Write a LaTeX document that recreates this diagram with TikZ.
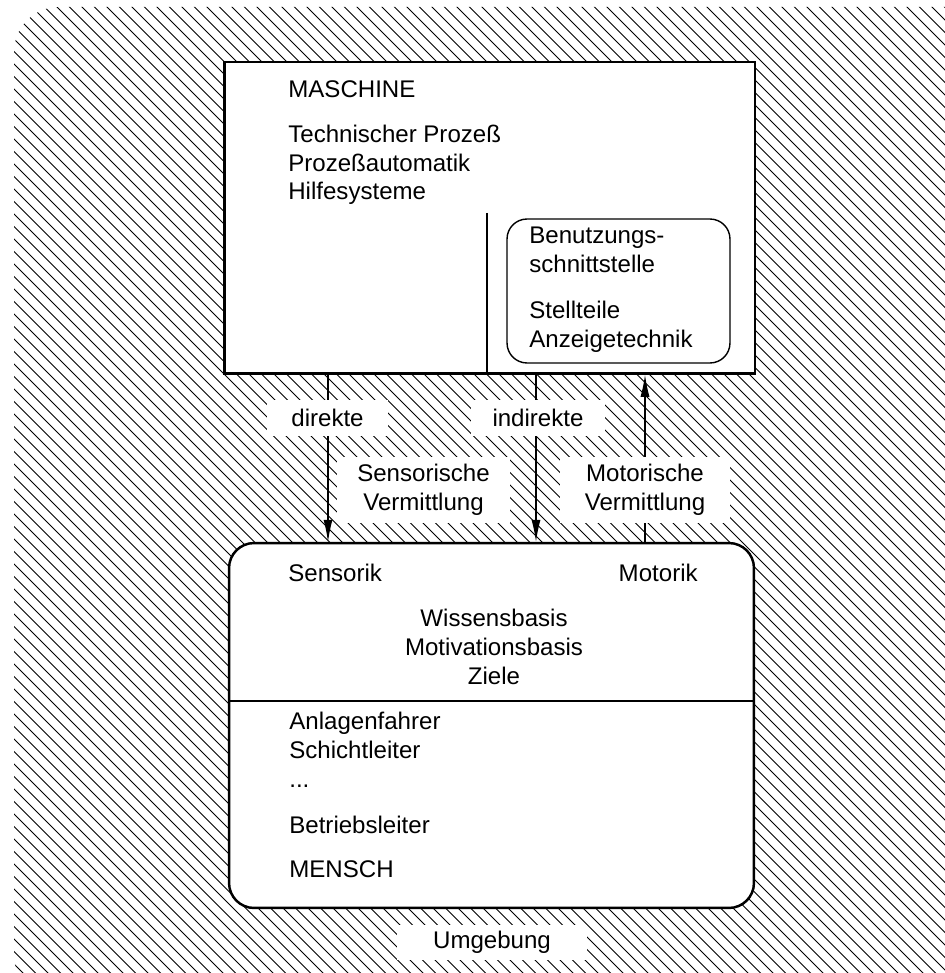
\documentclass[tikz,border=0pt]{standalone}
\usepackage{fontspec}
\setmainfont{Liberation Sans}
\usetikzlibrary{arrows.meta}

\begin{document}
\begin{tikzpicture}[x=0.02cm, y=-0.02cm,
    every node/.style={font=\fontsize{13.7}{16.5}\selectfont},
    hatch/.style={line width=0.55pt},
    kasten/.style={draw, fill=white, line width=1.6pt, inner sep=0pt},
    fenster/.style={draw, fill=white, line width=0.8pt, rounded corners=0.4cm, inner sep=0pt},
    etikett/.style={fill=white, inner sep=0pt, align=center},
    pfeil/.style={line width=0.6pt, -{Latex[length=4.4mm, width=1.8mm]}},
    liste/.style={align=left, anchor=base west, inner sep=0pt}]
  \useasboundingbox (0,0) rectangle (945,973);
  % Umgebung (schraffiert)
  \begin{scope}
    \clip[rounded corners=0.9cm] (14,7) rectangle (1000,1000);
    \foreach \k in {-80,...,80}
      \draw[hatch] (\k*12.5,0) -- ++(1000,1000);
  \end{scope}

  % Maschine (Knoten mit mehreren Zeilen: Basis = letzte Zeile)
  \node[kasten, minimum width=10.61cm, minimum height=6.23cm] (maschine) at (489.75,217.65) {};
  \coordinate (trenn) at (487,213);
  \draw[line width=1.6pt] (trenn) -- (trenn |- maschine.south);
  \node[fenster, minimum width=4.46cm, minimum height=2.88cm] (schnittstelle) at (618.5,291) {};
  \node[liste] (mtitel) at (288,98) {MASCHINE};
  \node[liste] (mliste) at (288,200) {Technischer Prozeß\\Prozeßautomatik\\Hilfesysteme};
  \node[liste] (stitel) at (529,272) {Benutzungs-\\schnittstelle};
  \node[liste] (sliste) at (529,347) {Stellteile\\Anzeigetechnik};

  % Mensch
  \node[draw, fill=white, line width=1.4pt, rounded corners=0.5cm, inner sep=0pt,
        minimum width=10.5cm, minimum height=7.3cm] (mensch) at (491.5,725.5) {};
  \coordinate (mtrenn) at (0,701);
  \draw[line width=1.4pt] (mensch.west |- mtrenn) -- (mensch.east |- mtrenn);
  \node[anchor=base west, inner sep=0pt] (sensorik) at (288,581) {Sensorik};
  \node[anchor=base east, inner sep=0pt] (motorik) at (698,581) {Motorik};
  \node[align=center, anchor=base, inner sep=0pt] (wissen) at (494,684) {Wissensbasis\\Motivationsbasis\\Ziele};
  \node[liste] (rollen) at (289,787) {Anlagenfahrer\\Schichtleiter\\...};
  \node[liste] (betrieb) at (289,833) {Betriebsleiter};
  \node[liste] (mtitel2) at (289,877) {MENSCH};

  % Vermittlung
  \coordinate (xdirekt) at (328,0);
  \coordinate (xindirekt) at (536,0);
  \coordinate (xmotor) at (645,0);
  \draw[pfeil] (maschine.south -| xdirekt) -- (mensch.north -| xdirekt);
  \draw[pfeil] (maschine.south -| xindirekt) -- (mensch.north -| xindirekt);
  \draw[pfeil] (mensch.north -| xmotor) -- (maschine.south -| xmotor);
  \node[etikett, minimum width=2.42cm, minimum height=0.74cm] (direkte) at (327.5,418) {direkte};
  \node[etikett, minimum width=2.68cm, minimum height=0.74cm] (indirekte) at (538,418) {indirekte};
  \node[etikett, minimum width=3.46cm, minimum height=1.32cm] (sensorisch) at (423.5,490) {Sensorische\\Vermittlung};
  \node[etikett, minimum width=3.4cm, minimum height=1.32cm] (motorisch) at (645,490) {Motorische\\Vermittlung};
  \node[etikett, minimum width=3.8cm, minimum height=0.7cm] (umgebung) at (492,942.5) {Umgebung};
\end{tikzpicture}
\end{document}
